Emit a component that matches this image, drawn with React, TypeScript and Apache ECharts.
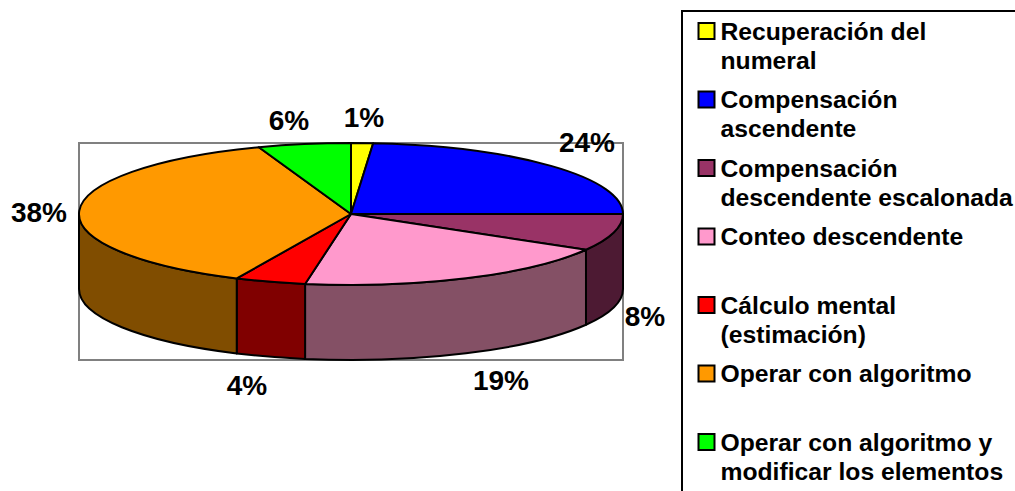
import React, { useEffect, useRef } from "react";
import * as echarts from "echarts";

// Strategy shares, clockwise from twelve o'clock; labels show them rounded.
const categories = [
  "Recuperación del\nnumeral",
  "Compensación\nascendente",
  "Compensación\ndescendente escalonada",
  "Conteo descendente",
  "Cálculo mental\n(estimación)",
  "Operar con algoritmo",
  "Operar con algoritmo y\nmodificar los elementos",
];
const shares = [1.3, 23.7, 8.4, 19.3, 4.2, 37.6, 5.5];
const topColors = ["#FFFF00", "#0000FF", "#993366", "#FF99CC", "#FF0000", "#FF9900", "#00FF00"];
const wallColors = ["#808000", "#000080", "#4D1A33", "#845065", "#800000", "#804D00", "#008000"];

// Centre of each percentage label on the canvas.
const labelCentres = [
  [364, 117],
  [587, 142],
  [645, 316],
  [501, 380],
  [247, 385],
  [39, 212],
  [289, 120],
];

const CX = 351;
const CY = 214;
const RX = 272;
const RY = 71;
const DEPTH = 75;
const FONT = '"Liberation Sans", Arial, sans-serif';

const total = shares.reduce((a, b) => a + b, 0);
const startAngles: number[] = [];
shares.reduce((acc, v, i) => {
  startAngles[i] = acc;
  return acc + (v / total) * 360;
}, 0);

// Point on the tilted rim; angle in degrees, clockwise from the top.
const rim = (deg: number, drop = 0): [number, number] => {
  const a = (deg * Math.PI) / 180;
  return [CX + RX * Math.sin(a), CY - RY * Math.cos(a) + drop];
};

const arcTo = (from: number, to: number, sweep: 0 | 1, drop = 0) => {
  const [x, y] = rim(to, drop);
  const large = Math.abs(to - from) > 180 ? 1 : 0;
  return `A ${RX} ${RY} 0 ${large} ${sweep} ${x} ${y}`;
};

const edge = { stroke: "#000", lineWidth: 2, lineJoin: "round" as const };

function renderWall(params: any) {
  const i = params.dataIndex;
  const start = Math.max(startAngles[i], 90);
  const end = Math.min(startAngles[i] + (shares[i] / total) * 360, 270);
  if (end <= start) return { type: "group", children: [] };
  const [sx, sy] = rim(start);
  const [ex, ey] = rim(end, DEPTH);
  const [bx, by] = rim(start, DEPTH);
  const d =
    `M ${sx} ${sy} ${arcTo(start, end, 1)} L ${ex} ${ey} ` +
    `${arcTo(end, start, 0, DEPTH)} L ${bx} ${by} Z`;
  return {
    type: "path",
    shape: { pathData: d },
    style: { fill: wallColors[i], ...edge },
  };
}

function renderTop(params: any, api: any) {
  const i = params.dataIndex;
  const start = startAngles[i];
  const end = start + (api.value(0) / total) * 360;
  const [sx, sy] = rim(start);
  const d = `M ${CX} ${CY} L ${sx} ${sy} ${arcTo(start, end, 1)} Z`;
  return {
    type: "path",
    shape: { pathData: d },
    style: { fill: topColors[i], ...edge },
  };
}

function renderLabel(params: any, api: any) {
  const i = params.dataIndex;
  return {
    type: "text",
    style: {
      text: `${Math.round(api.value(0))}%`,
      x: labelCentres[i][0],
      y: labelCentres[i][1],
      align: "center",
      verticalAlign: "middle",
      font: `bold 28px ${FONT}`,
      fill: "#000",
    },
  };
}

function legendElements() {
  const out: any[] = [
    {
      type: "rect",
      shape: { x: 682, y: 11, width: 400, height: 560 },
      style: { fill: "#fff", stroke: "#000", lineWidth: 2 },
      z: 0,
    },
  ];
  categories.forEach((name, i) => {
    const mid = 31 + 68.5 * i;
    out.push({
      type: "rect",
      shape: { x: 698.5, y: mid - 8, width: 16, height: 16 },
      style: { fill: topColors[i], stroke: "#000", lineWidth: 2 },
      z: 1,
    });
    out.push({
      type: "text",
      x: 720.5,
      y: mid - 14.5,
      style: {
        text: name,
        font: `bold 24.7px ${FONT}`,
        lineHeight: 29,
        fill: "#000",
        verticalAlign: "top",
      },
      z: 1,
    });
  });
  return out;
}

export default function App() {
  const ref = useRef<HTMLDivElement>(null);

  useEffect(() => {
    if (!ref.current) return;
    const chart = echarts.init(ref.current, null, { renderer: "svg" });
    const series = (renderItem: any, z: number) => ({
      type: "custom" as const,
      coordinateSystem: "none" as const,
      data: shares,
      renderItem,
      z,
      silent: true,
    });
    chart.setOption({
      animation: false,
      backgroundColor: "#fff",
      graphic: [
        {
          type: "rect",
          shape: { x: 79, y: 143, width: 544, height: 217 },
          style: { fill: "#fff", stroke: "#808080", lineWidth: 2 },
          z: 0,
        },
        ...legendElements(),
      ],
      series: [series(renderWall, 2), series(renderTop, 3), series(renderLabel, 4)],
    });
    return () => chart.dispose();
  }, []);

  return (
    <div
      ref={ref}
      style={{ position: "absolute", left: 0, top: 0, width: 1015, height: 491, overflow: "hidden" }}
    />
  );
}
